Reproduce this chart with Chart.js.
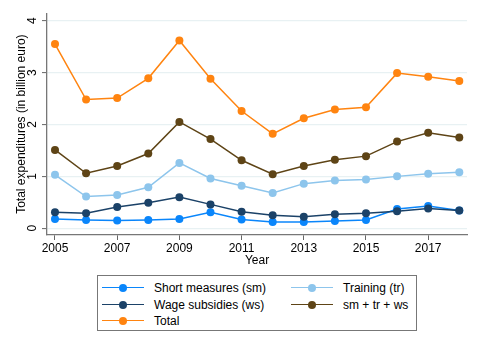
<!DOCTYPE html>
<html>
<head>
<meta charset="utf-8">
<script src="https://cdn.jsdelivr.net/npm/chart.js@4.4.0/dist/chart.umd.min.js"></script>
<style>
  html, body { margin: 0; padding: 0; background: #fff; }
  body { width: 479px; height: 348px; position: relative; overflow: hidden; font-family: "Liberation Sans", Arial, sans-serif; }
  #wrap { position: absolute; left: 0; top: 0; width: 479px; height: 270px; }
  #legend { position: absolute; left: 97px; top: 275px; width: 320px; height: 56px; box-sizing: border-box; border: 1px solid #777; }
  .item { position: absolute; height: 14px; font-size: 12px; line-height: 14px; color: #000; white-space: nowrap; }
  .sample { position: absolute; left: 0; top: 6px; width: 42px; height: 0; border-top: 1.5px solid; }
  .dot { position: absolute; left: 17px; top: 3px; width: 8px; height: 8px; border-radius: 50%; }
  .lbl { position: absolute; left: 52px; top: 0; }
</style>
</head>
<body>
<div id="wrap"><canvas id="c"></canvas></div>
<div id="legend"></div>
<script>
const years = [2005, 2006, 2007, 2008, 2009, 2010, 2011, 2012, 2013, 2014, 2015, 2016, 2017, 2018];
const shortMeasures = [0.18, 0.16, 0.15, 0.16, 0.18, 0.31, 0.17, 0.12, 0.12, 0.14, 0.16, 0.37, 0.43, 0.34];
const training      = [1.03, 0.61, 0.64, 0.79, 1.26, 0.96, 0.82, 0.68, 0.86, 0.92, 0.94, 1.00, 1.05, 1.08];
const wageSubsidies = [0.31, 0.29, 0.41, 0.49, 0.60, 0.46, 0.32, 0.25, 0.22, 0.27, 0.29, 0.33, 0.38, 0.34];
const smTrWs        = [1.51, 1.06, 1.20, 1.44, 2.05, 1.72, 1.31, 1.04, 1.20, 1.32, 1.39, 1.67, 1.84, 1.75];
const total         = [3.55, 2.48, 2.51, 2.89, 3.62, 2.88, 2.26, 1.82, 2.12, 2.29, 2.33, 2.99, 2.92, 2.84];
const xTickYears = [2005, 2007, 2009, 2011, 2013, 2015, 2017];
const yTickValues = [0, 1, 2, 3, 4];
const seriesNames = ["Short measures (sm)", "Training (tr)", "Wage subsidies (ws)", "sm + tr + ws", "Total"];
const seriesColors = ["#0a86fb", "#8dc5ec", "#1b4268", "#5e4416", "#ff8410"];
const seriesValues = [shortMeasures, training, wageSubsidies, smTrWs, total];

const datasets = seriesValues.map((vals, i) => ({
  label: seriesNames[i],
  data: years.map((yr, j) => ({ x: yr, y: vals[j] })),
  borderColor: seriesColors[i],
  backgroundColor: seriesColors[i],
  borderWidth: 1.5,
  pointRadius: 4,
  pointBorderWidth: 0,
  pointBackgroundColor: seriesColors[i],
  tension: 0,
  order: seriesValues.length - i
}));

const fontFam = '"Liberation Sans", Arial, sans-serif';

new Chart(document.getElementById('c'), {
  type: 'line',
  data: { datasets },
  options: {
    responsive: true,
    maintainAspectRatio: false,
    animation: false,
    devicePixelRatio: 1,
    layout: { padding: { left: 0, top: 12, right: 12, bottom: 0 } },
    plugins: { legend: { display: false }, tooltip: { enabled: false } },
    scales: {
      x: {
        type: 'linear',
        min: 2004.743,
        max: 2018.248,
        afterBuildTicks: s => { s.ticks = xTickYears.map(v => ({ value: v })); },
        afterFit: s => { s.height = 35; },
        ticks: { color: '#000', font: { family: fontFam, size: 12 }, padding: 1, maxRotation: 0, callback: v => String(v) },
        grid: { drawOnChartArea: false, drawTicks: true, tickLength: 5, tickColor: '#666', tickWidth: 1 },
        border: { color: '#777', width: 1.3 },
        title: { display: true, text: 'Year', color: '#000', font: { family: fontFam, size: 12 }, padding: { top: 0, bottom: 2 } }
      },
      y: {
        type: 'linear',
        min: -0.13,
        max: 4.145,
        afterBuildTicks: s => { s.ticks = yTickValues.map(v => ({ value: v })); },
        afterFit: s => { s.width = 47; },
        ticks: { color: '#000', font: { family: fontFam, size: 12 }, padding: 6, minRotation: 90, maxRotation: 90, crossAlign: 'center', callback: v => String(v) },
        grid: { color: '#e8f1f3', lineWidth: 1.2, drawTicks: true, tickLength: 5, tickColor: '#666', tickWidth: 1 },
        border: { color: '#777', width: 1.3 },
        title: { display: true, text: 'Total expenditures (in billion euro)', color: '#000', font: { family: fontFam, size: 12 }, padding: { top: 14, bottom: 0 } }
      }
    }
  }
});

const legend = document.getElementById('legend');
seriesNames.forEach((name, i) => {
  const col = i % 2, row = Math.floor(i / 2);
  const item = document.createElement('div');
  item.className = 'item';
  item.style.left = (col === 0 ? 4 : 193) + 'px';
  item.style.top = (5 + row * 16.5) + 'px';
  const line = document.createElement('div');
  line.className = 'sample';
  line.style.borderTopColor = seriesColors[i];
  const dot = document.createElement('div');
  dot.className = 'dot';
  dot.style.background = seriesColors[i];
  const lbl = document.createElement('span');
  lbl.className = 'lbl';
  lbl.textContent = name;
  item.appendChild(line); item.appendChild(dot); item.appendChild(lbl);
  legend.appendChild(item);
});
</script>
</body>
</html>
